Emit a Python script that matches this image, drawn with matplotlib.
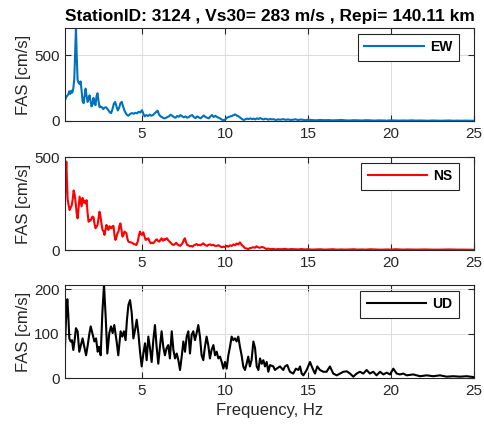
import numpy as np
import matplotlib
matplotlib.use('Agg')
import matplotlib.pyplot as plt

plt.rc('font', family=['Liberation Sans', 'DejaVu Sans'], size=10)
plt.rc('lines', linewidth=1.5)

TITLE = 'StationID: 3124 , Vs30= 283 m/s , Repi= 140.11 km'
XTICKS = [5, 10, 15, 20, 25]
XLIM = (0.36, 25)

# ---- EW component ----
ew_f = [0.36, 0.45, 0.55, 0.62, 0.68, 0.74, 0.80, 0.86, 0.92, 0.97,
        1.02, 1.07, 1.12, 1.18, 1.24, 1.30, 1.36, 1.42, 1.48, 1.54,
        1.60, 1.66, 1.72, 1.78, 1.84, 1.90, 1.96, 2.02, 2.08, 2.14,
        2.20, 2.26, 2.32, 2.38, 2.44, 2.50, 2.58, 2.66, 2.74, 2.82,
        2.90, 2.98, 3.06, 3.14, 3.22, 3.30, 3.38, 3.46, 3.54, 3.62,
        3.70, 3.78, 3.86, 3.94, 4.02, 4.10, 4.18, 4.30, 4.40, 4.50,
        4.60, 4.70, 4.80, 4.90, 5.00, 5.08, 5.16, 5.26, 5.36, 5.46,
        5.56, 5.66, 5.76, 5.86, 5.94, 6.02, 6.12, 6.22, 6.32, 6.42,
        6.52, 6.62, 6.72, 6.82, 6.92, 7.02, 7.12, 7.22, 7.32, 7.42,
        7.52, 7.62, 7.72, 7.82, 7.92, 8.02, 8.12, 8.22, 8.32, 8.42,
        8.52, 8.62, 8.72, 8.82, 8.92, 9.02, 9.12, 9.22, 9.32, 9.42,
        9.52, 9.62, 9.72, 9.82, 9.92, 10.02, 10.12, 10.22, 10.32, 10.42,
        10.52, 10.62, 10.72, 10.82, 10.92, 11.02, 11.12, 11.22, 11.32, 11.42,
        11.52, 11.62, 11.72, 11.82, 11.92, 12.02, 12.12, 12.22, 12.32, 12.42,
        12.52, 12.62, 12.72, 12.82, 12.92, 13.05, 13.2, 13.35, 13.5, 13.65,
        13.8, 13.95, 14.1, 14.25, 14.4, 14.55, 14.7, 14.85, 15.0, 15.25,
        15.5, 15.75, 16.0, 16.25, 16.5, 16.75, 17.0, 17.25, 17.5, 17.75,
        18.0, 18.25, 18.5, 18.75, 19.0, 19.25, 19.5, 19.75, 20.0, 20.25,
        20.5, 20.75, 21.0, 21.25, 21.5, 21.75, 22.0, 22.25, 22.5, 22.75,
        23.0, 23.25, 23.5, 23.75, 24.0, 24.25, 24.5, 24.75, 25.0]
ew_amp = [160, 185, 200, 225, 205, 230, 215, 245, 320, 520,
          705, 480, 310, 290, 280, 300, 230, 150, 135, 190,
          245, 190, 145, 165, 195, 150, 110, 130, 175, 130,
          120, 190, 210, 150, 105, 110, 105, 90, 100, 105,
          95, 80, 65, 60, 90, 130, 145, 110, 80, 100,
          135, 145, 110, 80, 60, 45, 40, 55, 60, 55,
          62, 58, 70, 65, 82, 55, 35, 45, 38, 48,
          40, 45, 58, 70, 78, 50, 35, 28, 20, 22,
          30, 35, 48, 40, 30, 25, 38, 32, 45, 35,
          28, 35, 25, 30, 40, 45, 30, 22, 35, 28,
          20, 30, 42, 30, 25, 20, 35, 45, 30, 40,
          30, 25, 18, 10, 5, 12, 25, 30, 35, 38,
          45, 50, 40, 35, 25, 15, 8, 12, 18, 15,
          20, 14, 18, 12, 20, 15, 22, 16, 12, 18,
          14, 10, 16, 12, 14, 8, 12, 10, 14, 9,
          12, 8, 10, 13, 7, 11, 9, 6, 10, 7,
          5, 8, 6, 7, 5, 6, 8, 5, 4, 6,
          5, 4, 6, 5, 3, 5, 4, 3, 5, 4,
          3, 4, 3, 5, 3, 4, 3, 2, 4, 3,
          2, 3, 4, 2, 3, 2, 3, 2, 2]

# ---- NS component ----
ns_f = [0.36, 0.40, 0.44, 0.48, 0.52, 0.58, 0.64, 0.70, 0.76, 0.82,
        0.88, 0.94, 1.00, 1.06, 1.12, 1.18, 1.24, 1.30, 1.36, 1.42,
        1.48, 1.54, 1.60, 1.66, 1.72, 1.78, 1.84, 1.90, 1.96, 2.02,
        2.08, 2.14, 2.20, 2.26, 2.32, 2.38, 2.44, 2.50, 2.56, 2.62,
        2.68, 2.74, 2.80, 2.86, 2.92, 2.98, 3.04, 3.10, 3.16, 3.22,
        3.28, 3.34, 3.40, 3.46, 3.52, 3.58, 3.64, 3.70, 3.76, 3.82,
        3.88, 3.94, 4.00, 4.06, 4.12, 4.18, 4.26, 4.34, 4.42, 4.50,
        4.58, 4.66, 4.74, 4.82, 4.88, 4.94, 5.00, 5.08, 5.14, 5.22,
        5.30, 5.38, 5.46, 5.52, 5.60, 5.68, 5.76, 5.84, 5.90, 5.98,
        6.04, 6.12, 6.18, 6.26, 6.32, 6.38, 6.44, 6.50, 6.58, 6.66,
        6.74, 6.82, 6.90, 6.98, 7.06, 7.14, 7.22, 7.30, 7.38, 7.46,
        7.52, 7.58, 7.64, 7.72, 7.80, 7.88, 7.96, 8.04, 8.12, 8.20,
        8.28, 8.36, 8.44, 8.52, 8.60, 8.68, 8.76, 8.84, 8.92, 9.00,
        9.10, 9.20, 9.30, 9.40, 9.50, 9.60, 9.70, 9.80, 9.90, 10.00,
        10.10, 10.20, 10.30, 10.40, 10.50, 10.60, 10.70, 10.80, 10.90, 11.00,
        11.10, 11.20, 11.30, 11.40, 11.50, 11.60, 11.70, 11.80, 11.90, 12.00,
        12.10, 12.20, 12.30, 12.40, 12.50, 12.60, 12.75, 12.90, 13.05, 13.20,
        13.40, 13.60, 13.80, 14.00, 14.20, 14.40, 14.60, 14.80, 15.00, 15.25,
        15.50, 15.75, 16.0, 16.25, 16.5, 16.75, 17.0, 17.25, 17.5, 17.75,
        18.0, 18.25, 18.5, 18.75, 19.0, 19.25, 19.5, 19.75, 20.0, 20.25,
        20.5, 20.75, 21.0, 21.5, 22.0, 22.5, 23.0, 23.5, 24.0, 24.5,
        25.0]
ns_amp = [260, 400, 475, 380, 270, 240, 215, 228, 238, 270,
          320, 300, 255, 200, 170, 230, 287, 260, 235, 280,
          255, 265, 250, 268, 200, 152, 160, 158, 170, 180,
          175, 140, 117, 125, 135, 170, 206, 180, 140, 108,
          100, 81, 110, 135, 115, 108, 128, 120, 117, 128,
          130, 80, 54, 70, 90, 99, 130, 143, 110, 72,
          80, 99, 95, 90, 60, 45, 42, 41, 38, 32,
          30, 27, 45, 80, 99, 85, 81, 95, 75, 54,
          58, 63, 45, 36, 40, 36, 45, 55, 57, 48,
          45, 55, 63, 50, 58, 54, 60, 63, 52, 45,
          38, 30, 27, 32, 39, 30, 25, 22, 30, 40,
          55, 63, 45, 27, 25, 20, 22, 18, 25, 28,
          32, 26, 28, 25, 30, 36, 30, 25, 22, 28,
          30, 25, 28, 22, 22, 26, 20, 15, 18, 16,
          22, 18, 25, 22, 30, 25, 35, 30, 41, 28,
          20, 10, 8, 5, 10, 12, 15, 12, 20, 14,
          12, 16, 15, 10, 5, 8, 4, 6, 3, 5,
          4, 6, 3, 5, 4, 3, 5, 3, 4, 2,
          3, 4, 2, 3, 4, 2, 3, 2, 3, 4,
          2, 3, 2, 4, 3, 2, 2, 3, 2, 4,
          3, 2, 3, 2, 3, 2, 2, 3, 2, 2,
          1]

# ---- UD component ----
ud_f = [0.36, 0.42, 0.50, 0.56, 0.62, 0.70, 0.78, 0.86, 0.94, 1.02,
        1.12, 1.22, 1.32, 1.42, 1.50, 1.63, 1.73, 1.83, 1.91, 2.03,
        2.13, 2.23, 2.33, 2.41, 2.51, 2.61, 2.71, 2.81, 2.91, 3.03,
        3.13, 3.23, 3.33, 3.47, 3.57, 3.71, 3.81, 3.91, 4.01, 4.09,
        4.18, 4.28, 4.38, 4.48, 4.58, 4.68, 4.78, 4.88, 4.98, 5.08,
        5.18, 5.28, 5.38, 5.48, 5.58, 5.68, 5.78, 5.88, 5.98, 6.08,
        6.18, 6.28, 6.38, 6.48, 6.58, 6.68, 6.79, 6.89, 6.99, 7.09,
        7.19, 7.29, 7.39, 7.49, 7.59, 7.69, 7.79, 7.89, 7.99, 8.09,
        8.19, 8.29, 8.39, 8.49, 8.59, 8.69, 8.79, 8.89, 8.99, 9.09,
        9.19, 9.30, 9.40, 9.50, 9.60, 9.70, 9.80, 9.90, 10.00, 10.10,
        10.20, 10.30, 10.40, 10.50, 10.60, 10.70, 10.80, 10.90, 11.00, 11.10,
        11.20, 11.30, 11.40, 11.50, 11.60, 11.71, 11.81, 11.91, 12.01, 12.11,
        12.21, 12.31, 12.41, 12.51, 12.61, 12.71, 12.91, 13.01, 13.11, 13.31,
        13.51, 13.61, 13.75, 13.91, 14.11, 14.27, 14.42, 14.52, 14.62, 14.72,
        14.92, 15.12, 15.28, 15.42, 15.56, 15.72, 15.92, 16.12, 16.32, 16.52,
        16.73, 16.93, 17.13, 17.33, 17.53, 17.73, 17.93, 18.13, 18.33, 18.53,
        18.73, 18.93, 19.13, 19.34, 19.54, 19.74, 19.94, 20.14, 20.34, 20.54,
        20.74, 20.94, 21.34, 21.75, 22.15, 22.55, 22.95, 23.35, 23.75, 24.16,
        24.56, 25.0]
ud_amp = [70, 130, 177, 140, 89, 82, 85, 63, 85, 112,
          105, 59, 74, 89, 74, 51, 74, 100, 116, 97,
          82, 89, 59, 70, 51, 146, 209, 138, 55, 101,
          116, 101, 119, 82, 51, 105, 93, 105, 85, 130,
          164, 175, 146, 89, 108, 131, 101, 59, 26, 55,
          78, 40, 93, 67, 36, 85, 119, 70, 32, 70,
          105, 70, 51, 67, 74, 44, 105, 63, 44, 55,
          40, 18, 48, 82, 59, 93, 105, 55, 97, 105,
          85, 101, 119, 93, 51, 40, 70, 93, 74, 44,
          63, 74, 51, 59, 44, 48, 36, 21, 36, 21,
          51, 70, 93, 85, 89, 82, 93, 70, 51, 26,
          18, 32, 48, 26, 40, 82, 67, 26, 18, 44,
          32, 40, 26, 36, 14, 29, 26, 18, 21, 26,
          18, 26, 29, 14, 10, 21, 18, 26, 10, 6,
          18, 36, 21, 10, 26, 18, 14, 14, 26, 10,
          6, 10, 14, 15, 10, 3, 10, 14, 10, 18,
          10, 14, 6, 14, 8, 12, 8, 21, 10, 8,
          10, 6, 8, 4, 6, 4, 6, 3, 4, 3,
          4, 2]

components = [
    (ew_f, ew_amp, '#0072BD', 'EW', [0, 500]),
    (ns_f, ns_amp, '#FF0000', 'NS', [0, 500]),
    (ud_f, ud_amp, 'k', 'UD', [0, 100, 200]),
]
ylims = [max(ew_amp), 500, max(ud_amp)]

fig = plt.figure(figsize=(4.84, 4.28), dpi=100)
left, width = 65 / 484, 409 / 484
tops = [28, 157, 285]
h = 93 / 428

axes = []
for i, (f, a, col, lab, yt) in enumerate(components):
    ax = fig.add_axes([left, 1 - (tops[i] + 93) / 428, width, h])
    ax.plot(f, a, color=col, lw=1.5, label=lab)
    ax.set_xlim(*XLIM)
    ax.set_ylim(0, ylims[i])
    ax.set_xticks(XTICKS)
    ax.set_yticks(yt)
    ax.grid(True, color='0.86', lw=0.7)
    ax.set_axisbelow(True)
    ax.tick_params(direction='in', top=True, right=True, length=4,
                   width=0.8, colors='0.15', labelsize=11, pad=4)
    for sp in ax.spines.values():
        sp.set_color('0.15')
        sp.set_linewidth(0.8)
    ax.set_ylabel('FAS [cm/s]', fontsize=12, color='0.15')
    ax.yaxis.set_label_coords(-0.082, 0.5)
    leg = ax.legend(loc='upper right', bbox_to_anchor=(0.963, 0.935),
                    borderaxespad=0, handlelength=4.3,
                    handletextpad=0.45, borderpad=0.45, fancybox=False,
                    framealpha=1, prop={'weight': 'bold', 'size': 10})
    leg.get_frame().set_edgecolor('0.15')
    leg.get_frame().set_linewidth(0.8)
    axes.append(ax)

axes[0].set_title(TITLE, fontsize=12.5, fontweight='bold', pad=5)
axes[2].set_xlabel('Frequency, Hz', fontsize=12, color='0.15')

fig.savefig('out.png', dpi=100)
